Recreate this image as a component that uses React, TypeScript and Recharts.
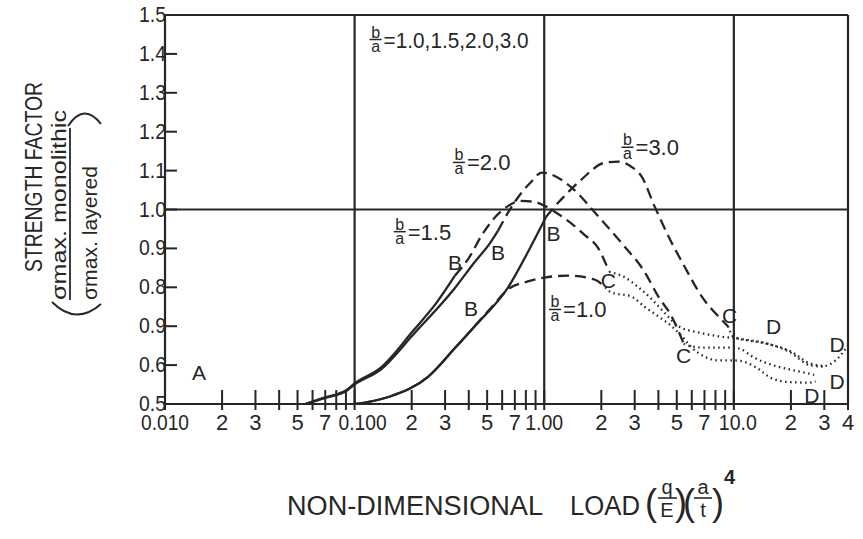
import React from "react";
import { LineChart, Line, XAxis, YAxis, ReferenceLine, ReferenceDot } from "recharts";

const INK = "#262626";
const FONT = "'Liberation Sans', Arial, sans-serif";

// axis ticks (log scale, labelled like the original sheet)
const xTicks = [
  0.01, 0.02, 0.03, 0.04, 0.05, 0.06, 0.07, 0.08, 0.09,
  0.1, 0.2, 0.3, 0.4, 0.5, 0.6, 0.7, 0.8, 0.9,
  1, 2, 3, 4, 5, 6, 7, 8, 9,
  10, 20, 30, 40,
];
const xTickLabels = [
  "0.010", "2", "3", "", "5", "", "7", "", "",
  "0.100", "2", "3", "", "5", "", "7", "", "",
  "1.00", "2", "3", "", "5", "", "7", "", "",
  "10.0", "2", "3", "4",
];
const yTicks = [0.5, 0.6, 0.7, 0.8, 0.9, 1.0, 1.1, 1.2, 1.3, 1.4, 1.5];
const yTickLabels = ["0.5", "0.6", "0.9", "0.8", "0.9", "1.0", "1.1", "1.2", "1.3", "1.4", "1.5"];

// b/a = 1.0
const ratio10Solid = [
  { x: 0.1, y: 0.5 }, { x: 0.117, y: 0.505 }, { x: 0.155, y: 0.52 }, { x: 0.244, y: 0.57 },
  { x: 0.34, y: 0.645 }, { x: 0.43, y: 0.7 },
];
const ratio10Dashed = [
  { x: 0.43, y: 0.7 }, { x: 0.53, y: 0.75 }, { x: 0.645, y: 0.795 }, { x: 0.82, y: 0.815 },
  { x: 1.0, y: 0.825 }, { x: 1.34, y: 0.83 }, { x: 1.84, y: 0.82 }, { x: 2.1, y: 0.8 },
];
const ratio10Dotted = [
  { x: 2.1, y: 0.8 }, { x: 2.26, y: 0.787 }, { x: 2.89, y: 0.776 }, { x: 3.38, y: 0.75 },
  { x: 4.0, y: 0.725 }, { x: 4.7, y: 0.7 }, { x: 5.3, y: 0.675 }, { x: 6.0, y: 0.645 },
  { x: 7.0, y: 0.622 }, { x: 8.3, y: 0.612 }, { x: 10, y: 0.612 }, { x: 11, y: 0.61 },
  { x: 13, y: 0.595 }, { x: 16, y: 0.565 }, { x: 20, y: 0.556 }, { x: 25, y: 0.555 },
  { x: 27, y: 0.558 },
];

// b/a = 1.5
const ratio15Solid = [
  { x: 0.055, y: 0.5 }, { x: 0.068, y: 0.515 }, { x: 0.092, y: 0.538 }, { x: 0.1, y: 0.553 },
  { x: 0.137, y: 0.593 }, { x: 0.205, y: 0.69 }, { x: 0.27, y: 0.76 }, { x: 0.338, y: 0.83 },
];
const ratio15Dashed = [
  { x: 0.338, y: 0.83 }, { x: 0.4, y: 0.875 }, { x: 0.47, y: 0.935 }, { x: 0.55, y: 0.98 },
  { x: 0.65, y: 1.01 }, { x: 0.75, y: 1.022 }, { x: 0.88, y: 1.02 }, { x: 1.0, y: 1.01 },
  { x: 1.13, y: 0.995 }, { x: 1.34, y: 0.97 }, { x: 1.63, y: 0.935 }, { x: 1.93, y: 0.9 },
  { x: 2.2, y: 0.84 },
];
const ratio15Dotted = [
  { x: 2.2, y: 0.84 }, { x: 2.65, y: 0.826 }, { x: 3.14, y: 0.8 }, { x: 3.68, y: 0.77 },
  { x: 4.3, y: 0.735 }, { x: 5.1, y: 0.7 }, { x: 6.5, y: 0.684 }, { x: 8.3, y: 0.674 },
  { x: 10.6, y: 0.668 }, { x: 15, y: 0.655 }, { x: 20, y: 0.632 }, { x: 25, y: 0.6 },
  { x: 30, y: 0.596 },
];

// b/a = 2.0
const ratio20Solid = [
  { x: 0.055, y: 0.5 }, { x: 0.068, y: 0.514 }, { x: 0.092, y: 0.536 }, { x: 0.1, y: 0.55 },
  { x: 0.137, y: 0.588 }, { x: 0.205, y: 0.68 }, { x: 0.334, y: 0.795 }, { x: 0.43, y: 0.865 },
  { x: 0.52, y: 0.915 }, { x: 0.57, y: 0.945 },
];
const ratio20Dashed = [
  { x: 0.57, y: 0.945 }, { x: 0.65, y: 0.995 }, { x: 0.75, y: 1.04 }, { x: 0.85, y: 1.07 },
  { x: 0.97, y: 1.095 }, { x: 1.15, y: 1.085 }, { x: 1.39, y: 1.057 }, { x: 1.93, y: 0.982 },
  { x: 2.65, y: 0.905 }, { x: 3.38, y: 0.84 }, { x: 4.0, y: 0.776 }, { x: 4.7, y: 0.725 },
  { x: 5.44, y: 0.655 },
];
const ratio20Dotted = [
  { x: 5.44, y: 0.655 }, { x: 6.0, y: 0.648 }, { x: 7.0, y: 0.645 }, { x: 8.3, y: 0.645 },
  { x: 10, y: 0.645 }, { x: 11, y: 0.64 }, { x: 12.5, y: 0.622 }, { x: 16, y: 0.6 },
  { x: 20, y: 0.588 }, { x: 25, y: 0.578 }, { x: 26.5, y: 0.575 },
];

// b/a = 3.0
const ratio30Solid = [
  { x: 0.1, y: 0.5 }, { x: 0.117, y: 0.505 }, { x: 0.155, y: 0.52 }, { x: 0.244, y: 0.57 },
  { x: 0.34, y: 0.645 }, { x: 0.43, y: 0.7 }, { x: 0.645, y: 0.8 }, { x: 0.85, y: 0.905 },
  { x: 1.02, y: 0.98 },
];
const ratio30Dashed = [
  { x: 1.02, y: 0.98 }, { x: 1.1, y: 1.0 }, { x: 1.23, y: 1.026 }, { x: 1.57, y: 1.077 },
  { x: 2.08, y: 1.12 }, { x: 2.46, y: 1.123 }, { x: 2.88, y: 1.11 }, { x: 3.26, y: 1.085 },
  { x: 3.82, y: 1.008 }, { x: 4.53, y: 0.93 }, { x: 5.5, y: 0.853 }, { x: 6.78, y: 0.776 },
  { x: 8.6, y: 0.717 }, { x: 9.3, y: 0.7 },
];
const ratio30Dotted = [
  { x: 9.3, y: 0.7 }, { x: 10, y: 0.672 }, { x: 15, y: 0.655 }, { x: 20, y: 0.635 },
  { x: 25, y: 0.605 }, { x: 30, y: 0.598 }, { x: 34, y: 0.61 }, { x: 40, y: 0.65 },
];

// point letters on the curves
const letterMarks = [
  { x: 0.0151, y: 0.581, text: "A" },
  { x: 0.338, y: 0.866, text: "B" },
  { x: 0.571, y: 0.892, text: "B" },
  { x: 0.411, y: 0.748, text: "B" },
  { x: 1.12, y: 0.94, text: "B" },
  { x: 2.18, y: 0.82, text: "C" },
  { x: 5.44, y: 0.627, text: "C" },
  { x: 9.5, y: 0.73, text: "C" },
  { x: 16.2, y: 0.7, text: "D" },
  { x: 35, y: 0.653, text: "D" },
  { x: 35, y: 0.558, text: "D" },
  { x: 25.8, y: 0.524, text: "D" },
];

// b/a labels (position = centre of the fraction bar)
const ratioLabels = [
  { x: 0.129, y: 1.437, value: "1.0,1.5,2.0,3.0", width: 145 },
  { x: 0.355, y: 1.121, value: "2.0", width: 0 },
  { x: 2.75, y: 1.16, value: "3.0", width: 0 },
  { x: 0.173, y: 0.943, value: "1.5", width: 0 },
  { x: 1.14, y: 0.743, value: "1.0", width: 0 },
];

const SOLID = undefined;
const DASHED = "11 6";
const DOTTED = "1.5 3.5";

const segments = [
  { data: ratio10Solid, dash: SOLID }, { data: ratio10Dashed, dash: DASHED }, { data: ratio10Dotted, dash: DOTTED },
  { data: ratio15Solid, dash: SOLID }, { data: ratio15Dashed, dash: DASHED }, { data: ratio15Dotted, dash: DOTTED },
  { data: ratio20Solid, dash: SOLID }, { data: ratio20Dashed, dash: DASHED }, { data: ratio20Dotted, dash: DOTTED },
  { data: ratio30Solid, dash: SOLID }, { data: ratio30Dashed, dash: DASHED }, { data: ratio30Dotted, dash: DOTTED },
];

const XTick = (props: any) => {
  const { x, y, payload } = props;
  const label = xTickLabels[xTicks.indexOf(payload.value)];
  const long = label && label.length > 1;
  const shift = label === "0.100" ? 8 : label === "10.0" ? 4 : 0;
  return (
    <g>
      <line x1={x} x2={x} y1={y - 14} y2={y + 6} stroke={INK} strokeWidth={2} />
      {label ? (
        <text
          x={x + shift}
          y={y + 26}
          textAnchor="middle"
          fontSize={22}
          fontFamily={FONT}
          fill={INK}
          textLength={long ? (label.length === 5 ? 48 : 38) : undefined}
          lengthAdjust={long ? "spacingAndGlyphs" : undefined}
        >
          {label}
        </text>
      ) : null}
    </g>
  );
};

const YTick = (props: any) => {
  const { x, y, payload } = props;
  const label = yTickLabels[yTicks.indexOf(payload.value)];
  return (
    <g>
      <line x1={x} x2={x + 12} y1={y} y2={y} stroke={INK} strokeWidth={2} />
      <text
        x={x + 1}
        y={y + 7}
        textAnchor="end"
        fontSize={22}
        fontFamily={FONT}
        fill={INK}
        textLength={27}
        lengthAdjust="spacingAndGlyphs"
      >
        {label}
      </text>
    </g>
  );
};

const Letter = ({ cx, cy, text }: any) => (
  <text x={cx} y={cy + 8} textAnchor="middle" fontSize={21} fontFamily={FONT} fill={INK}>
    {text}
  </text>
);

const RatioLabel = ({ cx, cy, value, width }: any) => (
  <g fill={INK} fontFamily={FONT}>
    <text x={cx} y={cy - 2} textAnchor="middle" fontSize={16}>b</text>
    <line x1={cx - 6} x2={cx + 6} y1={cy} y2={cy} stroke={INK} strokeWidth={1.5} />
    <text x={cx} y={cy + 12} textAnchor="middle" fontSize={16}>a</text>
    <text
      x={cx + 8}
      y={cy + 8}
      fontSize={22}
      textLength={width || undefined}
      lengthAdjust={width ? "spacingAndGlyphs" : undefined}
    >
      ={value}
    </text>
  </g>
);

const Titles = () => (
  <svg
    width={863}
    height={539}
    style={{ position: "absolute", left: 0, top: 0, pointerEvents: "none" }}
    fontFamily={FONT}
    fill={INK}
  >
    <text transform="translate(42,177) rotate(-90)" textAnchor="middle" fontSize={24} textLength={190} lengthAdjust="spacingAndGlyphs">
      STRENGTH FACTOR
    </text>
    <text transform="translate(66,300) rotate(-90)" fontSize={21} textLength={190} lengthAdjust="spacingAndGlyphs">
      σmax. monolithic
    </text>
    <line x1={70} x2={70} y1={300} y2={128} stroke={INK} strokeWidth={1.8} />
    <text transform="translate(97,300) rotate(-90)" fontSize={21} textLength={134} lengthAdjust="spacingAndGlyphs">
      σmax. layered
    </text>
    <path d="M 68 126 Q 84 102 101 124" fill="none" stroke={INK} strokeWidth={2} />
    <path d="M 52 302 Q 76 326 101 304" fill="none" stroke={INK} strokeWidth={2} />

    <text x={287} y={515} fontSize={27} textLength={256} lengthAdjust="spacingAndGlyphs">
      NON-DIMENSIONAL
    </text>
    <text x={570} y={515} fontSize={27} textLength={70} lengthAdjust="spacingAndGlyphs">
      LOAD
    </text>
    <text x={645} y={515} fontSize={36}>(</text>
    <text x={667} y={494} textAnchor="middle" fontSize={20}>q</text>
    <line x1={658} x2={677} y1={498} y2={498} stroke={INK} strokeWidth={1.6} />
    <text x={667} y={517} textAnchor="middle" fontSize={20}>E</text>
    <text x={675} y={515} fontSize={36}>)</text>
    <text x={683} y={515} fontSize={36}>(</text>
    <text x={703} y={494} textAnchor="middle" fontSize={20}>a</text>
    <line x1={694} x2={712} y1={498} y2={498} stroke={INK} strokeWidth={1.6} />
    <text x={703} y={517} textAnchor="middle" fontSize={20}>t</text>
    <text x={712} y={515} fontSize={36}>)</text>
    <text x={724} y={484} fontSize={20} fontWeight="bold">4</text>
  </svg>
);

export default function App() {
  return (
    <div style={{ position: "absolute", left: 0, top: 0, width: 863, height: 539, background: "#fff" }}>
      <LineChart width={863} height={539} margin={{ top: 15, right: 15, bottom: 105, left: 105 }}>
        <XAxis
          dataKey="x"
          type="number"
          scale="log"
          domain={[0.01, 40]}
          allowDataOverflow
          ticks={xTicks}
          interval={0}
          tick={<XTick />}
          tickSize={0}
          tickMargin={0}
          tickLine={false}
          axisLine={false}
          height={30}
        />
        <YAxis
          type="number"
          domain={[0.5, 1.5]}
          allowDataOverflow
          ticks={yTicks}
          interval={0}
          tick={<YTick />}
          tickSize={0}
          tickMargin={0}
          tickLine={false}
          axisLine={false}
          width={60}
        />
        {[0.01, 0.1, 1, 10, 40].map((v) => (
          <ReferenceLine key={"v" + v} x={v} stroke={INK} strokeWidth={2.2} />
        ))}
        {[0.5, 1.0, 1.5].map((v) => (
          <ReferenceLine key={"h" + v} y={v} stroke={INK} strokeWidth={2.2} />
        ))}
        {segments.map((s, i) => (
          <Line
            key={i}
            data={s.data}
            dataKey="y"
            type="monotone"
            stroke={INK}
            strokeWidth={2.3}
            strokeDasharray={s.dash}
            dot={false}
            activeDot={false}
            isAnimationActive={false}
          />
        ))}
        {letterMarks.map((m, i) => (
          <ReferenceDot key={"l" + i} x={m.x} y={m.y} r={1} shape={(p: any) => <Letter {...p} text={m.text} />} />
        ))}
        {ratioLabels.map((m, i) => (
          <ReferenceDot
            key={"r" + i}
            x={m.x}
            y={m.y}
            r={1}
            shape={(p: any) => <RatioLabel {...p} value={m.value} width={m.width} />}
          />
        ))}
      </LineChart>
      <Titles />
    </div>
  );
}
